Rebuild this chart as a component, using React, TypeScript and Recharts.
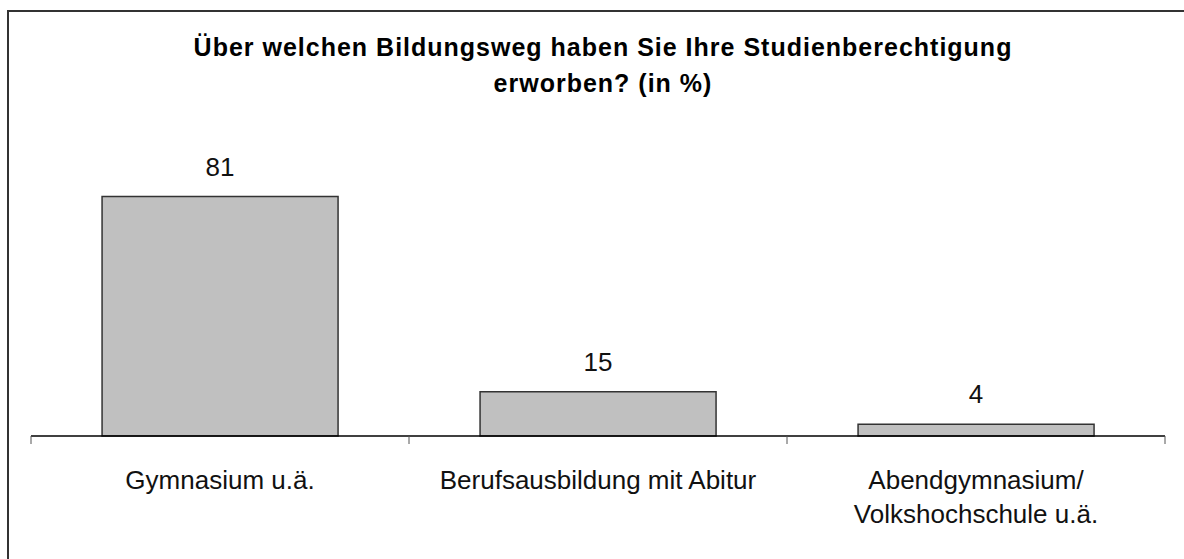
import { BarChart, Bar, XAxis, YAxis, LabelList } from "recharts";

const categories = [
  "Gymnasium u.ä.",
  "Berufsausbildung mit Abitur",
  "Abendgymnasium/\nVolkshochschule u.ä.",
];
const shares = [81, 15, 4];
const titleLines = [
  "Über welchen Bildungsweg haben Sie Ihre Studienberechtigung",
  "erworben? (in %)",
];

const data = categories.map((name, i) => ({ name, value: shares[i] }));

const WIDTH = 1184;
const HEIGHT = 559;
const margin = { top: 170, right: 19, bottom: 0, left: 31 };
const bandWidth = (WIDTH - margin.left - margin.right) / categories.length;

const font = "'Liberation Sans', Arial, sans-serif";

const CategoryTick = (props: any) => {
  const { x, y, payload, index } = props;
  const half = bandWidth / 2;
  const lines = String(payload.value).split("\n");
  return (
    <g>
      <line x1={x - half} x2={x - half} y1={y} y2={y + 8} stroke="#555" strokeWidth={1} />
      {index === categories.length - 1 && (
        <line x1={x + half} x2={x + half} y1={y} y2={y + 8} stroke="#555" strokeWidth={1} />
      )}
      <text
        x={x}
        y={y + 53}
        textAnchor="middle"
        fill="#111"
        style={{ fontFamily: font, fontSize: 26 }}
      >
        {lines.map((l, i) => (
          <tspan key={i} x={x} dy={i === 0 ? 0 : 34}>
            {l}
          </tspan>
        ))}
      </text>
    </g>
  );
};

export default function App() {
  return (
    <div
      style={{
        position: "fixed",
        left: 0,
        top: 0,
        width: WIDTH,
        height: HEIGHT,
        overflow: "hidden",
        background: "#fff",
      }}
    >
      <div
        style={{
          position: "absolute",
          left: 7,
          top: 10,
          width: 1220,
          height: 600,
          border: "2px solid #333",
        }}
      />
      <div
        style={{
          position: "absolute",
          left: 0,
          top: 29,
          width: 1206,
          textAlign: "center",
          fontFamily: font,
          fontWeight: "bold",
          fontSize: 25,
          letterSpacing: 1,
          lineHeight: "36px",
          color: "#000",
        }}
      >
        {titleLines.map((t, i) => (
          <div key={i}>{t}</div>
        ))}
      </div>
      <div style={{ position: "absolute", left: 0, top: 0 }}>
        <BarChart width={WIDTH} height={HEIGHT} data={data} margin={margin} barCategoryGap="18.8%">
          <XAxis
            dataKey="name"
            height={123}
            tickLine={false}
            tickSize={0}
            tickMargin={0}
            axisLine={{ stroke: "#000", strokeWidth: 1.5 }}
            tick={<CategoryTick />}
            interval={0}
          />
          <YAxis hide domain={[0, 90]} />
          <Bar dataKey="value" fill="#C0C0C0" stroke="#333" strokeWidth={1.5} isAnimationActive={false}>
            <LabelList
              dataKey="value"
              position="top"
              offset={21}
              fill="#111"
              style={{ fontFamily: font, fontSize: 26 }}
            />
          </Bar>
        </BarChart>
      </div>
    </div>
  );
}
